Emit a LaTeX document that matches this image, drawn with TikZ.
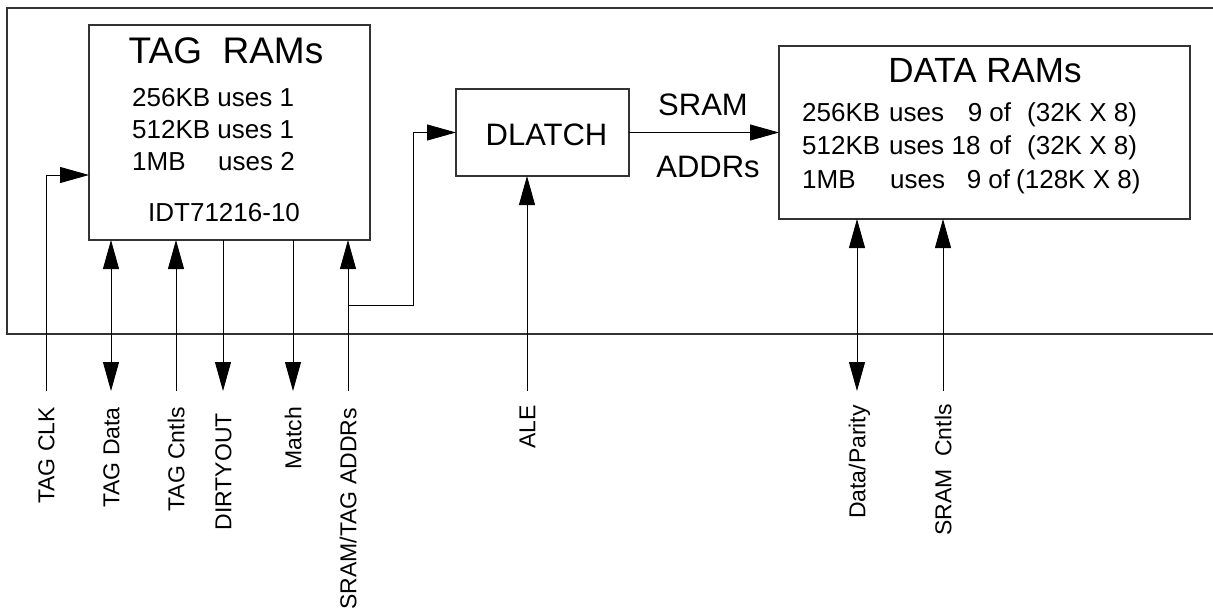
\documentclass[tikz,border=0pt]{standalone}
\usepackage{fontspec}
\setmainfont{Liberation Sans}
\usetikzlibrary{arrows.meta,calc}
\begin{document}
\begin{tikzpicture}[x=1pt,y=-1pt,
  box/.style={draw=black!80,line width=1.2pt,inner sep=0pt,outer sep=0pt},
  wire/.style={line width=0.9pt},
  tip/.style={wire,-{Triangle[length=29pt,width=16pt]}},
  tips/.style={wire,{Triangle[length=29pt,width=16pt]}-{Triangle[length=29pt,width=16pt]}},
  txt/.style={inner sep=0pt,anchor=base west,font=\fontsize{26}{30}\selectfont},
  ttl/.style={inner sep=0pt,anchor=base},
  sig/.style={inner sep=0pt,rotate=90,anchor=east,text height=16.5pt,text depth=0pt,font=\fontsize{23}{27}\selectfont}]
\useasboundingbox (0,0) rectangle (1213,615);
% outer frame
\draw[box] (1213,8) -- (7,8) -- (7,334) -- (1213,334);
% TAG RAMs
\node[box,minimum width=281pt,minimum height=215pt] (tag) at (229.5,132.5) {};
\node[ttl,font=\fontsize{37}{40}\selectfont] (tagt) at (226,64) {TAG\ \ RAMs};
\node[txt] (tag1) at (132,107) {256KB uses 1};
\node[txt] (tag2) at (132,139) {512KB uses 1};
\node[txt] (tag3) at (132,171) {\makebox[86pt][l]{1MB}uses 2};
\node[txt] (tag4) at (148,221) {IDT71216-10};
% DLATCH
\node[box,minimum width=173pt,minimum height=87pt] (dl) at (542.5,132.5) {};
\node[ttl,font=\fontsize{31}{34}\selectfont] (dlt) at (546.5,146) {DLATCH};
% DATA RAMs
\node[box,minimum width=411pt,minimum height=173pt] (data) at (984.5,132.5) {};
\node[ttl,font=\fontsize{35}{38}\selectfont] (datat) at (985,83) {DATA RAMs};
\node[txt] (d1) at (802,122) {\makebox[87pt][l]{256KB}\makebox[122pt]{uses\hfill 9 of}\hspace{16pt}(32K X 8)};
\node[txt] (d2) at (802,155) {\makebox[87pt][l]{512KB}\makebox[122pt]{uses\hfill 18\hspace{9pt}of}\hspace{16pt}(32K X 8)};
\node[txt] (d3) at (802,188) {\makebox[88pt][l]{1MB}\makebox[120pt]{uses\hfill 9 of}\hspace{6pt}(128K X 8)};
% bus labels
\node[ttl,font=\fontsize{31}{34}\selectfont] (sram) at (703,116) {SRAM};
\node[ttl,font=\fontsize{31}{34}\selectfont] (addrs) at (708,178) {ADDRs};
% signal ends
\coordinate (clk) at (46,391);
\coordinate (tdata) at (111,391);
\coordinate (tcntl) at (176,391);
\coordinate (dirty) at (223,391);
\coordinate (match) at (293,391);
\coordinate (addr) at (348,391);
\coordinate (ale) at (527,391);
\coordinate (dpar) at (857,391);
\coordinate (scntl) at (943,391);
\coordinate (jog) at (413,305);
% connectors
\draw[tip] (clk) |- (tag.west |- 0,175);
\draw[tips] (tdata) -- (tdata |- tag.south);
\draw[tip] (tcntl) -- (tcntl |- tag.south);
\draw[tip] (dirty |- tag.south) -- (dirty);
\draw[tip] (match |- tag.south) -- (match);
\draw[tip] (addr) -- (addr |- tag.south);
\draw[tip] (addr |- jog) -- (jog) |- (dl.west);
\draw[tip] (dl.east) -- (data.west);
\draw[tip] (ale) -- (ale |- dl.south);
\draw[tips] (dpar) -- (dpar |- data.south);
\draw[tip] (scntl) -- (scntl |- data.south);
% signal labels
\node[sig] (lclk) at (46,407) {TAG CLK};
\node[sig] (ltdata) at (111,407) {TAG Data};
\node[sig] (ltcntl) at (176,407) {TAG Cntls};
\node[sig] (ldirty) at (223,413) {DIRTYOUT};
\node[sig] (lmatch) at (293,407) {Match};
\node[sig] (laddr) at (348,408) {SRAM/TAG ADDRs};
\node[sig] (lale) at (527,405) {ALE};
\node[sig] (ldpar) at (857,405) {Data/Parity};
\node[sig] (lscntl) at (943,404) {SRAM\ \ Cntls};
\end{tikzpicture}
\end{document}
